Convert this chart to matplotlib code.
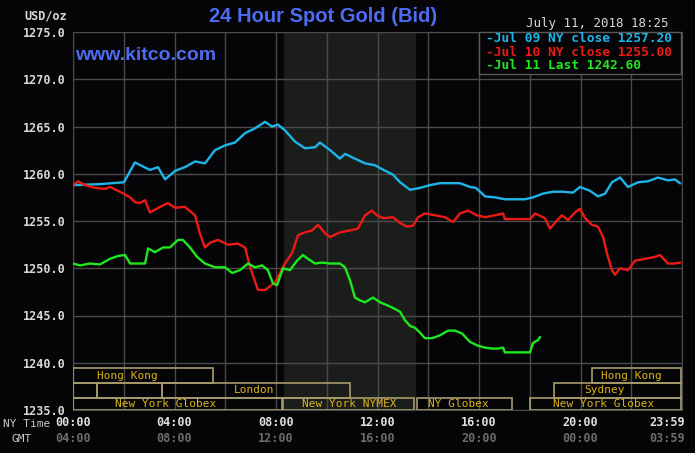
import matplotlib
matplotlib.use("Agg")
import matplotlib.pyplot as plt
from matplotlib.patches import Rectangle

# NY time in hours, price in USD/oz
jul09_t = [0.00, 1.06, 2.01, 2.44, 3.03, 3.35, 3.63, 4.02, 4.41, 4.81, 5.20, 5.60, 5.99, 6.38,
           6.78, 7.17, 7.57, 7.84, 8.08, 8.35, 8.75, 9.14, 9.54, 9.73, 10.13, 10.52, 10.72,
           11.11, 11.51, 11.90, 12.10, 12.61, 12.89, 13.28, 13.67, 14.07, 14.46, 14.86, 15.25,
           15.65, 15.88, 16.24, 16.63, 17.02, 17.42, 17.81, 18.13, 18.52, 18.92, 19.31, 19.70,
           19.98, 20.37, 20.69, 20.97, 21.24, 21.56, 21.87, 22.27, 22.66, 23.05, 23.45, 23.72, 23.92]
jul09_v = [1258.8, 1258.9, 1259.1, 1261.2, 1260.4, 1260.7, 1259.4, 1260.3, 1260.7, 1261.3, 1261.1,
           1262.5, 1263.0, 1263.3, 1264.3, 1264.8, 1265.5, 1265.0, 1265.2, 1264.6, 1263.4, 1262.7,
           1262.8, 1263.3, 1262.5, 1261.6, 1262.1, 1261.6, 1261.1, 1260.9, 1260.6, 1259.9, 1259.1,
           1258.3, 1258.5, 1258.8, 1259.0, 1259.0, 1259.0, 1258.6, 1258.5, 1257.6, 1257.5, 1257.3,
           1257.3, 1257.3, 1257.5, 1257.9, 1258.1, 1258.1, 1258.0, 1258.6, 1258.2, 1257.6, 1257.9,
           1259.1, 1259.6, 1258.6, 1259.1, 1259.2, 1259.6, 1259.3, 1259.4, 1259.0]

jul10_t = [0.00, 0.20, 0.47, 0.87, 1.26, 1.46, 1.85, 2.25, 2.44, 2.64, 2.84, 3.03, 3.43, 3.74,
           4.02, 4.41, 4.81, 5.00, 5.20, 5.40, 5.71, 6.11, 6.50, 6.78, 6.98, 7.29, 7.57, 7.96,
           8.16, 8.35, 8.63, 8.87, 9.14, 9.42, 9.66, 9.93, 10.13, 10.52, 10.92, 11.23, 11.51,
           11.78, 11.98, 12.22, 12.61, 12.89, 13.16, 13.40, 13.60, 13.87, 14.27, 14.66, 14.98,
           15.25, 15.57, 15.92, 16.24, 16.63, 16.95, 17.02, 18.01, 18.21, 18.60, 18.80, 18.99,
           19.27, 19.51, 19.78, 19.98, 20.18, 20.45, 20.69, 20.89, 21.04, 21.24, 21.36, 21.56,
           21.87, 22.15, 22.54, 22.94, 23.13, 23.45, 23.72, 23.92]
jul10_v = [1258.8, 1259.2, 1258.8, 1258.5, 1258.4, 1258.6, 1258.1, 1257.5, 1257.0, 1256.9, 1257.2,
           1255.9, 1256.5, 1256.9, 1256.4, 1256.5, 1255.6, 1253.7, 1252.2, 1252.7, 1253.0, 1252.5,
           1252.6, 1252.2, 1250.1, 1247.7, 1247.7, 1248.5, 1249.5, 1250.5, 1251.6, 1253.5, 1253.8,
           1254.0, 1254.6, 1253.7, 1253.3, 1253.8, 1254.0, 1254.2, 1255.6, 1256.1, 1255.6, 1255.3,
           1255.4, 1254.8, 1254.4, 1254.5, 1255.4, 1255.8, 1255.6, 1255.4, 1254.9, 1255.8, 1256.1,
           1255.6, 1255.4, 1255.6, 1255.8, 1255.2, 1255.2, 1255.8, 1255.3, 1254.2, 1254.8, 1255.6,
           1255.1, 1255.9, 1256.3, 1255.3, 1254.6, 1254.4, 1253.3, 1251.6, 1249.8, 1249.3, 1250.0,
           1249.8, 1250.8, 1251.0, 1251.2, 1251.4, 1250.5, 1250.5, 1250.6]

jul11_t = [0.00, 0.28, 0.67, 1.06, 1.46, 1.77, 2.05, 2.25, 2.84, 2.96, 3.23, 3.55, 3.82, 4.14,
           4.33, 4.61, 4.89, 5.20, 5.60, 5.99, 6.27, 6.58, 6.90, 7.17, 7.45, 7.68, 7.88, 8.04,
           8.28, 8.55, 8.83, 9.06, 9.26, 9.54, 9.81, 10.13, 10.52, 10.72, 10.92, 11.11, 11.31,
           11.51, 11.82, 12.10, 12.37, 12.61, 12.89, 13.08, 13.28, 13.48, 13.67, 13.87, 14.15,
           14.46, 14.78, 15.05, 15.33, 15.65, 15.96, 16.24, 16.51, 16.75, 16.95, 17.02, 18.01,
           18.13, 18.33, 18.40]
jul11_v = [1250.5, 1250.3, 1250.5, 1250.4, 1251.0, 1251.3, 1251.4, 1250.5, 1250.5, 1252.1, 1251.7,
           1252.2, 1252.2, 1253.0, 1253.0, 1252.2, 1251.2, 1250.5, 1250.1, 1250.1, 1249.5, 1249.8,
           1250.5, 1250.1, 1250.3, 1249.8, 1248.4, 1248.2, 1250.0, 1249.8, 1250.8, 1251.4, 1251.0,
           1250.5, 1250.6, 1250.5, 1250.5, 1250.1, 1248.7, 1246.9, 1246.6, 1246.4, 1246.9, 1246.4,
           1246.1, 1245.8, 1245.4, 1244.5, 1243.9, 1243.7, 1243.2, 1242.6, 1242.6, 1242.9, 1243.4,
           1243.4, 1243.1, 1242.2, 1241.8, 1241.6, 1241.5, 1241.5, 1241.6, 1241.1, 1241.1, 1242.1,
           1242.4, 1242.7]

legend_labels = ["-Jul 09 NY close 1257.20", "-Jul 10 NY close 1255.00", "-Jul 11 Last 1242.60"]
ny_labels = ["00:00", "04:00", "08:00", "12:00", "16:00", "20:00", "23:59"]
gmt_labels = ["04:00", "08:00", "12:00", "16:00", "20:00", "00:00", "03:59"]
label_hours = [0, 4, 8, 12, 16, 20, 24]

# trading sessions: row (0 top .. 2 bottom), start, end, label, label centre (hours)
sessions = [
    (0, 0.0, 5.5, "Hong Kong", 2.13),
    (0, 20.47, 23.95, "Hong Kong", 22.0),
    (1, 0.0, 0.95, "", 0),
    (1, 0.95, 3.5, "", 0),
    (1, 3.5, 10.92, "London", 7.15),
    (1, 18.96, 23.95, "Sydney", 20.93),
    (2, 0.0, 8.22, "New York Globex", 3.65),
    (2, 8.29, 13.44, "New York NYMEX", 10.87),
    (2, 13.55, 17.29, "NY Globex", 15.17),
    (2, 18.01, 23.95, "New York Globex", 20.93),
]
comex_start, comex_end = 8.30, 13.47

W, H = 695, 453
BG = "#050507"
MONO = "DejaVu Sans Mono"
colors = ["#1eb6e8", "#ec1a14", "#1ee81e"]


def fx(px):
    return px / W


def fy(py):
    return 1 - py / H


fig = plt.figure(figsize=(W / 100, H / 100), dpi=100, facecolor=BG)
ax = fig.add_axes([fx(73), fy(410), (682 - 73) / W, (410 - 32) / H])
ax.set_facecolor(BG)
ax.set_xlim(0, 24)
ax.set_ylim(1235, 1275)

ax.axvspan(comex_start, comex_end, color="#1b1d1b", zorder=0)

ax.set_xticks(range(0, 25, 2))
ax.set_xticklabels([])
ax.set_yticks(range(1235, 1276, 5))
ax.set_yticklabels([f"{v:.1f}" for v in range(1235, 1276, 5)],
                   fontfamily=MONO, fontweight="bold", fontsize=8.5, color="#d8d8d8")
ax.tick_params(length=0, pad=5)
ax.grid(True, color="#4a4a4a", linewidth=1.0, zorder=1)
for s in ax.spines.values():
    s.set_color("#4a4a4a")

ax.plot(jul09_t, jul09_v, color=colors[0], lw=1.7, zorder=3)
ax.plot(jul10_t, jul10_v, color=colors[1], lw=1.7, zorder=3)
ax.plot(jul11_t, jul11_v, color=colors[2], lw=1.7, zorder=3)

# session boxes between 1235 and the 1240 grid line
row_edges = [(1237.85, 1239.45), (1236.3, 1237.85), (1235.0, 1236.3)]
for row, start, end, label, lx in sessions:
    lo, hi = row_edges[row]
    ax.add_patch(Rectangle((start, lo), end - start, hi - lo, fill=False,
                           edgecolor="#a89c6c", lw=1.2, zorder=4))
    if label:
        ax.text(lx, (lo + hi) / 2, label, ha="center", va="center", fontfamily=MONO,
                fontsize=8, color="#dcb41c", zorder=5)

# time axis labels
for h, ny, gmt in zip(label_hours, ny_labels, gmt_labels):
    px = 73 + h * 25.375
    if h == 24:
        px = 667
    fig.text(fx(px), fy(423), ny, ha="center", va="center", fontfamily=MONO,
             fontweight="bold", fontsize=8.5, color="#e0e0e0")
    fig.text(fx(px), fy(439), gmt, ha="center", va="center", fontfamily=MONO,
             fontweight="bold", fontsize=8.5, color="#6c6c6c")
fig.text(fx(3), fy(424), "NY Time", ha="left", va="center", fontfamily=MONO,
         fontsize=8, color="#c8c8c8")
fig.text(fx(12), fy(439), "GMT", ha="left", va="center", fontfamily=MONO,
         fontsize=8, color="#c8c8c8")

fig.text(fx(67), fy(16), "USD/oz", ha="right", va="center", fontfamily=MONO,
         fontweight="bold", fontsize=8.5, color="#d8d8d8")
fig.text(fx(323), fy(17), "24 Hour Spot Gold (Bid)", ha="center", va="center",
         fontfamily="Liberation Sans", fontweight="bold", fontsize=14.5, color="#4e6cf2")
fig.text(fx(75), fy(55), "www.kitco.com", ha="left", va="center",
         fontfamily="Liberation Sans", fontweight="bold", fontsize=14, color="#4e6cf2")
fig.text(fx(668), fy(23), "July 11, 2018 18:25", ha="right", va="center", fontfamily=MONO,
         fontsize=9, color="#d8d8d8")

# legend box
fig.add_artist(Rectangle((fx(479), fy(74)), (681 - 479) / W, (74 - 32) / H,
                         transform=fig.transFigure, facecolor=BG, edgecolor="#5a5a5a",
                         lw=1, zorder=6))
for i, (lab, c) in enumerate(zip(legend_labels, colors)):
    fig.text(fx(486), fy(38.5 + 13.7 * i), lab, ha="left", va="center", fontfamily=MONO,
             fontweight="bold", fontsize=9.3, color=c, zorder=7)

fig.savefig("out.png", dpi=100, facecolor=BG)
